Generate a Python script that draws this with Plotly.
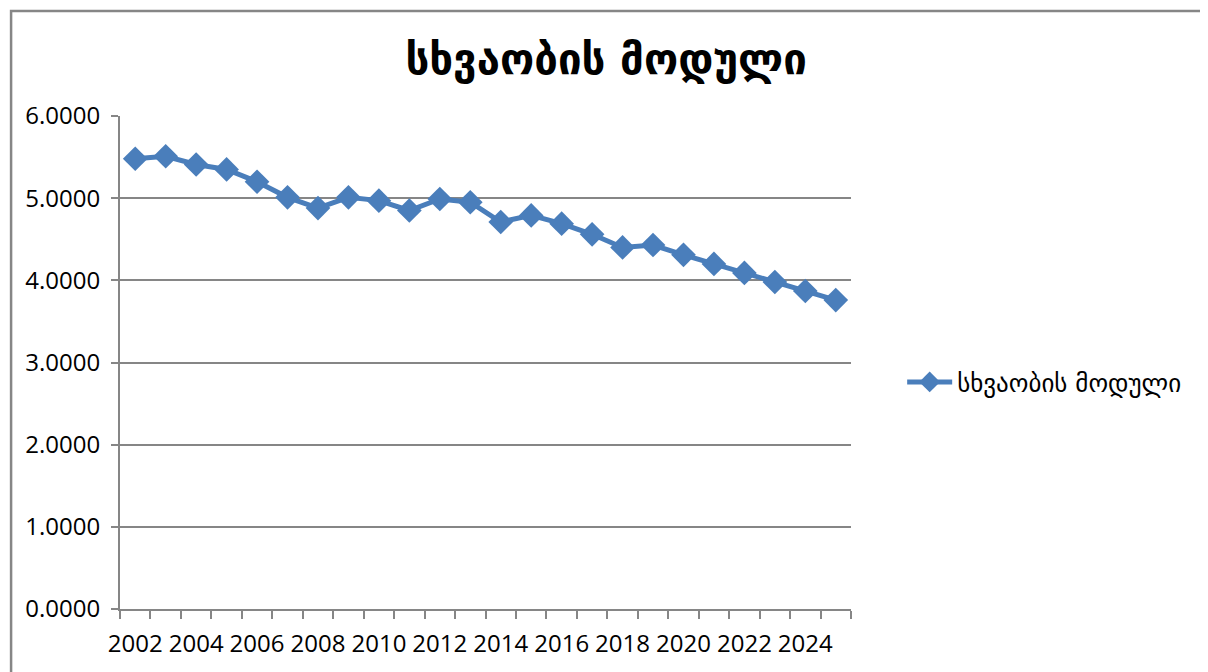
import plotly.graph_objects as go

# yearly values
years = list(range(2002, 2026))
values = [5.48, 5.51, 5.41, 5.35, 5.20, 5.01, 4.88, 5.01, 4.97, 4.85, 4.99, 4.95,
          4.71, 4.79, 4.69, 4.56, 4.40, 4.43, 4.31, 4.20, 4.09, 3.98, 3.87, 3.76]
label_years = list(range(2002, 2026, 2))
series_name = "სხვაობის მოდული"

blue = "#4a7ebb"
grey = "#868686"

fig = go.Figure()
fig.add_trace(go.Scatter(
    x=years, y=values, name=series_name,
    mode="lines+markers",
    line=dict(color=blue, width=5),
    marker=dict(symbol="diamond", size=19, color=blue),
))

# chart area border (Excel style), right/bottom edges fall off the page
fig.add_shape(type="rect", xref="paper", yref="paper",
              x0=-0.149, x1=1.6, y0=-0.2, y1=1.213,
              line=dict(color=grey, width=2.5), layer="below")

# page body has an 8px margin, so the figure is 8px smaller than the window
fig.update_layout(
    width=1200, height=664,
    margin=dict(l=112, r=357, t=108, b=63),
    paper_bgcolor="white", plot_bgcolor="white",
    font=dict(family="Open Sans, DejaVu Sans", size=24, color="black"),
    title=dict(text="<b>" + series_name + "</b>", x=0.665, xref="paper",
               xanchor="center", y=0.922, yref="container", yanchor="middle",
               font=dict(family="DejaVu Sans", size=42, color="black")),
    showlegend=True,
    legend=dict(x=1.07, y=0.46, xanchor="left", yanchor="middle",
                font=dict(family="DejaVu Sans", size=25), itemwidth=45),
)

fig.update_xaxes(
    range=[2001.5, 2025.5],
    tickmode="array", tickvals=label_years, ticktext=[str(y) for y in label_years],
    ticks="", showgrid=False, zeroline=False, ticklabelstandoff=12,
    showline=True, linecolor=grey, linewidth=2,
    minor=dict(tick0=2001.5, dtick=1, ticks="outside", ticklen=8,
               tickcolor=grey, tickwidth=2, showgrid=False),
)
fig.update_yaxes(
    range=[0, 6], dtick=1, tickformat=".4f", ticklabelstandoff=6,
    ticks="outside", ticklen=7, tickcolor=grey, tickwidth=2,
    showgrid=True, gridcolor=grey, gridwidth=2,
    zeroline=False, showline=True, linecolor=grey, linewidth=2,
)

fig.write_html("out.html")
